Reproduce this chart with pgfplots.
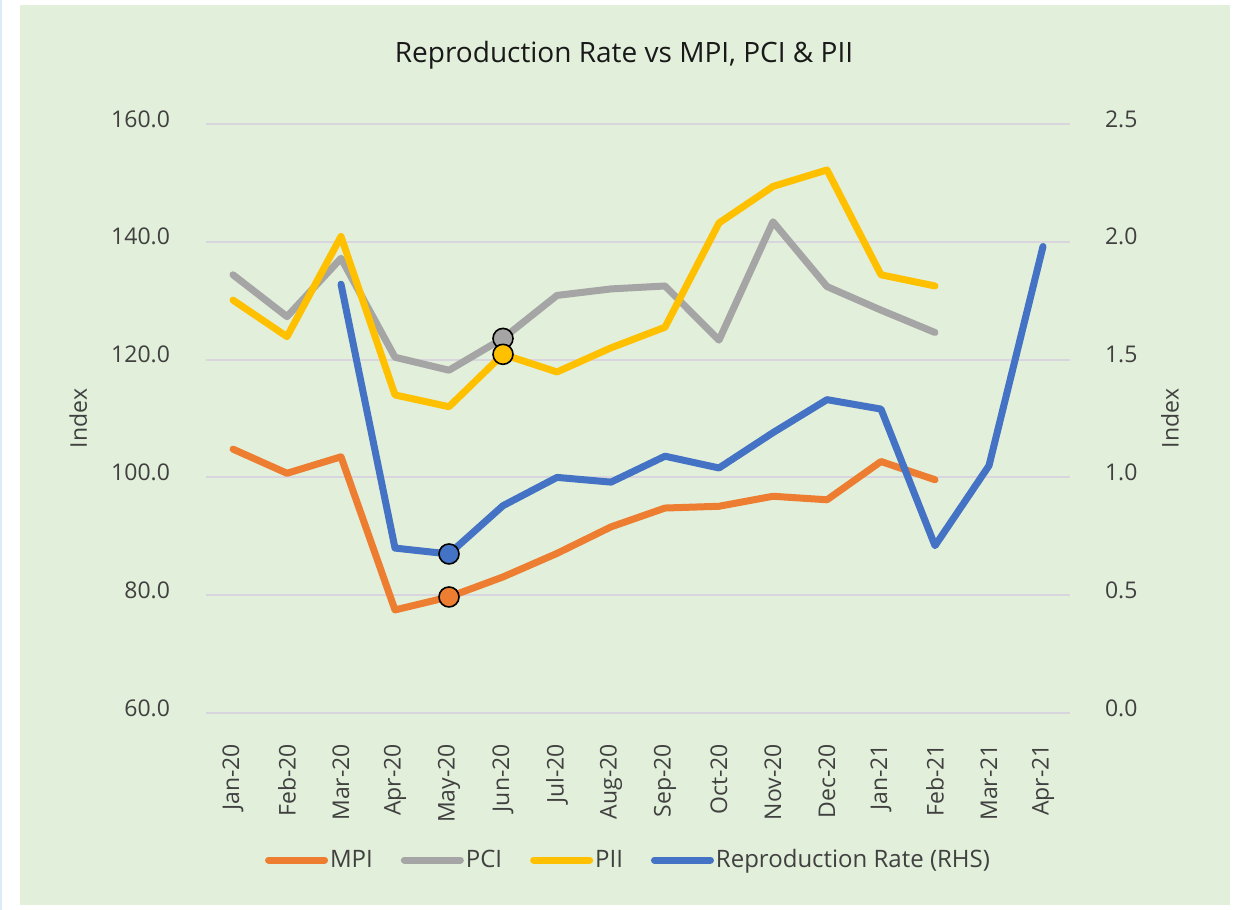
\documentclass[border=0pt]{standalone}
\usepackage{pgfplots}
\pgfplotsset{compat=1.18}
\usepackage{fontspec}
\setmainfont{Open Sans}
\definecolor{bg}{RGB}{226,239,218}
\definecolor{mpi}{RGB}{237,125,49}
\definecolor{pci}{RGB}{165,165,165}
\definecolor{pii}{RGB}{255,192,0}
\definecolor{rr}{RGB}{68,114,196}
\definecolor{gridc}{RGB}{217,213,222}
\definecolor{txt}{RGB}{64,64,64}
\definecolor{edgeblue}{RGB}{221,235,247}

\pgfplotstableread{
x mpi pci pii
0 104.8 134.4 130.1
1 100.7 127.3 123.9
2 103.5 137.2 140.9
3 77.5 120.4 114.0
4 79.7 118.2 112.0
5 83.1 123.6 120.9
6 87.1 130.9 117.9
7 91.6 132.0 122.0
8 94.8 132.5 125.5
9 95.1 123.3 143.2
10 96.8 143.4 149.4
11 96.2 132.4 152.2
12 102.7 128.4 134.4
13 99.6 124.6 132.5
}\lefttable

\pgfplotstableread{
x rr
2 1.82
3 0.70
4 0.675
5 0.88
6 1.00
7 0.98
8 1.09
9 1.04
10 1.19
11 1.33
12 1.29
13 0.71
14 1.05
15 1.98
}\righttable

\pgfplotsset{
  common/.style={
    scale only axis, width=432pt, height=294.5pt,
    at={(103pt,-356.5pt)}, anchor=south west,
    xmin=-0.5, xmax=15.5,
    axis line style={draw=none},
    major tick length=0pt,
    tick label style={font=\fontsize{11.5}{13}\selectfont, text=txt},
    label style={font=\fontsize{11.5}{13}\selectfont, text=txt},
    yticklabel style={/pgf/number format/fixed, /pgf/number format/fixed zerofill,
      /pgf/number format/precision=1, /pgf/number format/assume math mode=true, yshift=2.5pt},
    every axis plot/.append style={line width=3.5pt, line cap=round, line join=round},
  },
  dot/.style={only marks, mark=*, mark size=5pt, forget plot,
    mark options={draw=black, line width=0.8pt, fill=#1}},
}

\begin{document}
\begin{tikzpicture}
\useasboundingbox (0,0) rectangle (618.5pt,-455pt);
\fill[white] (0,0) rectangle (618.5pt,-455pt);
\fill[edgeblue] (0,0) rectangle (1pt,-455pt);
\fill[bg] (10pt,-2.5pt) rectangle (615pt,-452.5pt);
\node[font=\fontsize{14}{16}\selectfont, text=black!90] at (312pt,-27.5pt) {Reproduction Rate vs MPI, PCI \& PII};

\begin{axis}[common,
  ymin=60, ymax=160, ytick={60,80,...,160},
  ymajorgrids, grid style={gridc, line width=1pt},
  xtick={0,...,15},
  xticklabels={Jan-20,Feb-20,Mar-20,Apr-20,May-20,Jun-20,Jul-20,Aug-20,Sep-20,Oct-20,Nov-20,Dec-20,Jan-21,Feb-21,Mar-21,Apr-21},
  xticklabel style={rotate=90, anchor=east},
  xticklabel shift=12pt,
  yticklabel shift=14.5pt,
  ylabel={Index},
  ylabel style={at={(axis description cs:-0.148,0.5)}, anchor=center},
  legend columns=-1,
  legend style={at={(axis description cs:0.489,-0.2496)}, anchor=center,
    draw=none, fill=none, font=\fontsize{12}{14}\selectfont, text=txt,
    nodes={inner xsep=1pt},
    /tikz/every even column/.append style={column sep=13pt}},
  legend image code/.code={\draw[#1, line cap=round] (0pt,0pt) -- (28pt,0pt);},
]
\addplot[mpi] table[x=x, y=mpi] {\lefttable};
\addplot[pci] table[x=x, y=pci] {\lefttable};
\addplot[pii] table[x=x, y=pii] {\lefttable};
\addlegendimage{rr, line width=3.5pt}
\addplot[dot=mpi] coordinates {(4,79.7)};
\addplot[dot=pci] coordinates {(5,123.6)};
\addplot[dot=pii] coordinates {(5,120.9)};
\legend{MPI,PCI,PII,Reproduction Rate (RHS)}
\end{axis}

\begin{axis}[common,
  ymin=0, ymax=2.5, ytick={0,0.5,...,2.5},
  yticklabel pos=right,
  xtick=\empty,
  yticklabel shift=14pt,
  ylabel={Index},
  ylabel style={at={(axis description cs:1.1157,0.5)}, anchor=center},
]
\addplot[rr] table[x=x, y=rr] {\righttable};
\addplot[dot=rr] coordinates {(4,0.675)};
\end{axis}
\end{tikzpicture}
\end{document}
